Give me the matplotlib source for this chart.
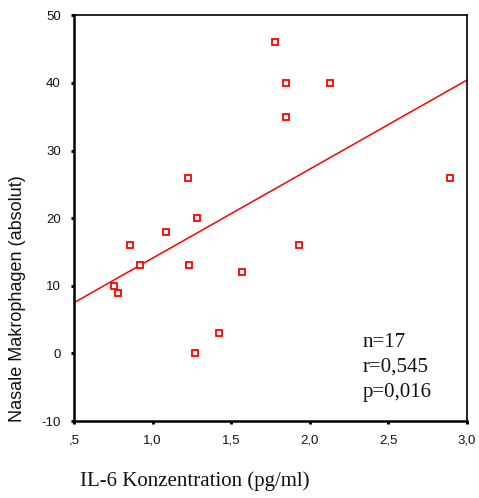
import matplotlib
matplotlib.use("Agg")
import matplotlib.pyplot as plt
from matplotlib.ticker import FuncFormatter

# Data
il6 = [0.755, 0.782, 0.918, 1.234, 1.268, 1.421, 0.858, 1.088, 1.224, 1.283,
       1.777, 1.847, 2.127, 1.847, 2.895, 1.932, 1.570]
makro = [10, 9, 13, 13, 0, 3, 16, 18, 26, 20,
         46, 40, 40, 35, 26, 16, 12]
fit_x = [0.5, 3.0]
fit_y = [7.5, 40.4]
x_ticks = [0.5, 1.0, 1.5, 2.0, 2.5, 3.0]
y_ticks = [-10, 0, 10, 20, 30, 40, 50]
stats_lines = ["n=17", "r=0,545", "p=0,016"]

W, H = 479, 498
fig = plt.figure(figsize=(W / 100, H / 100), dpi=100)
ax = fig.add_axes([0.1545, 0.1546, 0.8198, 0.8147])

ax.plot(fit_x, fit_y, color="#ff0000", lw=1.1, zorder=2)
ax.plot(il6, makro, ls="none", marker="s", markersize=5, markerfacecolor="white",
        markeredgecolor="#ff0000", markeredgewidth=1.3, zorder=3)

ax.set_xlim(0.5, 3.0)
ax.set_ylim(-10, 50)
ax.set_xticks(x_ticks)
ax.set_yticks(y_ticks)

def xfmt(v, pos):
    s = f"{v:.1f}".replace(".", ",")
    if s.startswith("0"):
        s = s[1:]
    return s

ax.xaxis.set_major_formatter(FuncFormatter(xfmt))
ax.yaxis.set_major_formatter(FuncFormatter(lambda v, p: f"{int(v)}"))

for side in ["left", "bottom"]:
    ax.spines[side].set_linewidth(1.8)
for side in ["top", "right"]:
    ax.spines[side].set_linewidth(1.2)

ax.tick_params(axis="both", direction="out", length=2.5, width=2.2, color="black",
               labelsize=9.5, labelcolor="#111111")
ax.tick_params(axis="x", pad=7)
ax.tick_params(axis="y", pad=7)
for lab in ax.get_xticklabels() + ax.get_yticklabels():
    lab.set_family("Liberation Sans")

baselines = [346.7, 371.7, 396.5]
for txt, yb in zip(stats_lines, baselines):
    fig.text(363 / W, 1 - yb / H, txt, family="Liberation Serif", fontsize=15,
             va="baseline", ha="left", color="#111111")

fig.text(80 / W, 1 - 486 / H, "IL-6 Konzentration (pg/ml)", family="Liberation Serif",
         fontsize=15, ha="left", va="baseline", color="#111111")
fig.text(18 / W, 1 - 299 / H, "Nasale Makrophagen (absolut)", family="Liberation Sans",
         fontsize=13, rotation=90, ha="center", va="center", color="#111111")

fig.savefig("out.png", dpi=100)
